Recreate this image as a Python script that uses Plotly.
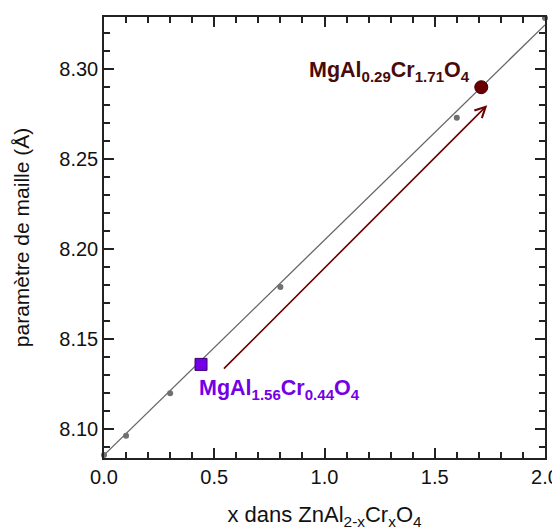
import plotly.graph_objects as go

# data: x in ZnAl(2-x)Cr(x)O4 and lattice parameter (Å)
zn_x = [0.0, 0.1, 0.3, 0.8, 1.6, 2.0]
zn_a = [8.0856, 8.0963, 8.1200, 8.1790, 8.2730, 8.3285]

fit_x = [0.0, 2.0]
fit_a = [8.0856, 8.3246]

mg44_x = [0.44]
mg44_a = [8.136]
mg171_x = [1.711]
mg171_a = [8.290]

arrow_start = (0.537, 8.1328)
arrow_end = (1.738, 8.2800)

x_tickvals = [0.0, 0.5, 1.0, 1.5, 2.0]
x_ticktext = ["0.0", "0.5", "1.0", "1.5", "2.0"]
y_tickvals = [8.10, 8.15, 8.20, 8.25, 8.30]
y_ticktext = ["8.10", "8.15", "8.20", "8.25", "8.30"]

FONT = "Liberation Sans, Arial, sans-serif"
PURPLE = "#7400e6"
DARKRED = "#6b0000"

fig = go.Figure()
fig.add_trace(go.Scatter(x=fit_x, y=fit_a, mode="lines",
                         line=dict(color="#666666", width=1.3),
                         hoverinfo="skip", cliponaxis=True))
fig.add_trace(go.Scatter(x=zn_x, y=zn_a, mode="markers",
                         marker=dict(color="#707070", size=6),
                         cliponaxis=False))
fig.add_trace(go.Scatter(x=mg44_x, y=mg44_a, mode="markers",
                         marker=dict(color=PURPLE, size=12, symbol="square",
                                     line=dict(color="#3a0070", width=1)),
                         cliponaxis=False))
fig.add_trace(go.Scatter(x=mg171_x, y=mg171_a, mode="markers",
                         marker=dict(color=DARKRED, size=13, symbol="circle",
                                     line=dict(color="#400000", width=1)),
                         cliponaxis=False))

fig.add_annotation(x=arrow_end[0], y=arrow_end[1], ax=arrow_start[0], ay=arrow_start[1],
                   xref="x", yref="y", axref="x", ayref="y", text="",
                   showarrow=True, arrowhead=5, arrowsize=1.3, arrowwidth=1.6,
                   arrowcolor=DARKRED)

fig.add_annotation(x=1.668, y=8.2985, xref="x", yref="y", xanchor="right", yanchor="middle",
                   text="<b>MgAl<sub>0.29</sub>Cr<sub>1.71</sub>O<sub>4</sub></b>",
                   showarrow=False, font=dict(family=FONT, size=21.5, color="#4a0a0a"))
fig.add_annotation(x=0.421, y=8.1218, xref="x", yref="y", xanchor="left", yanchor="middle",
                   text="<b>MgAl<sub>1.56</sub>Cr<sub>0.44</sub>O<sub>4</sub></b>",
                   showarrow=False, font=dict(family=FONT, size=21.5, color=PURPLE))

axis_common = dict(showline=True, linecolor="#222222", linewidth=1.5, mirror="ticks",
                   ticks="inside", tickcolor="#222222", tickwidth=1.5, ticklen=10,
                   showgrid=False, zeroline=False,
                   tickfont=dict(family=FONT, size=20, color="#111111"))

fig.update_xaxes(range=[0, 2.0], tickvals=x_tickvals, ticktext=x_ticktext,
                 minor=dict(dtick=0.1, ticks="inside", ticklen=6, tickcolor="#222222",
                            tickwidth=1.5, showgrid=False),
                 title=dict(text="x dans ZnAl<sub>2-x</sub>Cr<sub>x</sub>O<sub>4</sub>",
                            font=dict(family=FONT, size=22, color="#111111"), standoff=20),
                 **axis_common)
fig.update_yaxes(range=[8.084, 8.329], tickvals=y_tickvals, ticktext=y_ticktext,
                 minor=dict(dtick=0.01, tick0=8.10, ticks="inside", ticklen=6, tickcolor="#222222",
                            tickwidth=1.5, showgrid=False),
                 title=dict(text="paramètre de maille (Å)",
                            font=dict(family=FONT, size=21, color="#111111"), standoff=24),
                 **axis_common)

# page body has an 8px margin, so the figure is 8px smaller and offset
fig.update_layout(width=552, height=523, showlegend=False,
                  margin=dict(l=96, r=15, t=9, b=73, autoexpand=False),
                  paper_bgcolor="white", plot_bgcolor="white")

fig.write_html("out.html")
